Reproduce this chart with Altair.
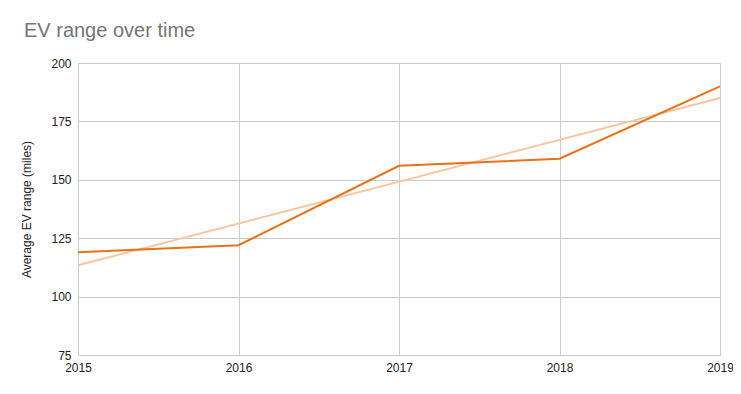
import altair as alt
import pandas as pd

years = [2015, 2016, 2017, 2018, 2019]
avg_range = [119, 122, 156, 159, 190]

df = pd.DataFrame({"year": years, "range": avg_range})

FONT = "Liberation Sans"

x = alt.X("year:Q",
          scale=alt.Scale(domain=[2015, 2019], nice=False, zero=False),
          axis=alt.Axis(values=years, format="d", title=None, grid=True,
                        gridColor="#cccccc", domain=False, ticks=False,
                        labelFont=FONT, labelFontSize=12, labelColor="#222222",
                        labelPadding=7, labelFlush=False))
y = alt.Y("range:Q",
          scale=alt.Scale(domain=[75, 200], nice=False, zero=False),
          axis=alt.Axis(values=[75, 100, 125, 150, 175, 200], title="Average EV range (miles)",
                        grid=True, gridColor="#cccccc", domain=False, ticks=False,
                        labelFont=FONT, labelFontSize=12, labelColor="#222222",
                        labelPadding=7, titleFont=FONT, titleFontSize=12,
                        titleFontWeight="normal", titleColor="#222222", titlePadding=17))

base = alt.Chart(df)
trend = base.transform_regression("year", "range", extent=[2015, 2019]).mark_line(
    color="#f8c6a2", strokeWidth=2).encode(x=x, y=y)
line = base.mark_line(color="#e8711a", strokeWidth=2).encode(x=x, y=y)

chart = (trend + line).properties(
    width=642, height=292,
    title=alt.TitleParams("EV range over time", anchor="start", font=FONT,
                          fontSize=20, fontWeight="normal", color="#757575",
                          frame="bounds", dx=3, offset=16),
    autosize=alt.AutoSizeParams(type="none"),
    padding={"left": 70, "top": 55, "right": 13, "bottom": 31},
).configure_view(stroke="#cccccc", strokeWidth=1).configure(background="white")

chart.save("out.html", embed_options={"renderer": "svg", "actions": False})
